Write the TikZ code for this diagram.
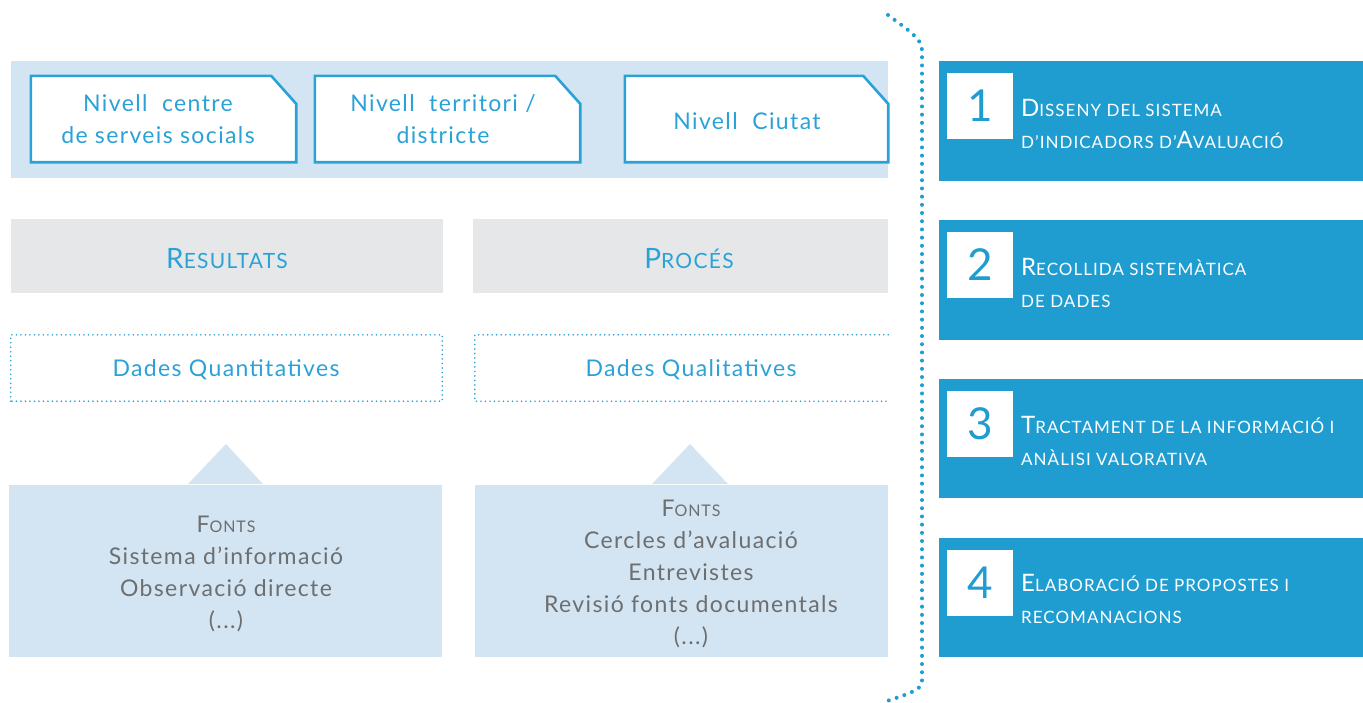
\documentclass[tikz,border=0pt]{standalone}
\usepackage{fontspec}
\setmainfont{Lato}[LetterSpace=6]
\usetikzlibrary{positioning, calc}
\definecolor{paleblue}{HTML}{D3E5F2}
\definecolor{lineblue}{HTML}{2AA2D8}
\definecolor{stepblue}{HTML}{1F9DD0}
\definecolor{headgray}{HTML}{E6E7E8}
\definecolor{fontgray}{HTML}{6D6E70}
\newcommand{\lowcaps}[2]{{\fontsize{#1}{#1}\selectfont #2}}

\begin{document}
\begin{tikzpicture}[x=1pt, y=-1pt, inner sep=0pt,
      nivell/.style={minimum width=265pt, minimum height=86pt, text=lineblue,
        align=center, font=\fontsize{23}{32}\selectfont},
      nivellline/.style={draw=lineblue, line width=2.6pt, fill=white, line join=miter},
      headbox/.style={fill=headgray, minimum height=74pt, text=lineblue,
        font=\fontsize{28}{30}\selectfont},
      databox/.style={minimum height=66pt, text=lineblue,
        font=\fontsize{23}{30}\selectfont},
      dotline/.style={draw=lineblue, line width=1.8pt, dash pattern=on 0pt off 4.5pt, line cap=round},
      fontbox/.style={fill=paleblue, minimum height=172pt, text=fontgray, align=center,
        font=\fontsize{23}{31.8}\selectfont},
      stepbox/.style={fill=stepblue, minimum width=424pt, minimum height=120pt},
      numbox/.style={fill=white, minimum size=66pt, text=stepblue,
        font=\fontsize{44}{44}\selectfont},
      steptext/.style={anchor=west, align=left, text=white,
        font=\fontsize{24}{32}\selectfont}]
      \useasboundingbox (0,0) rectangle (1363,702);
      % niveaux
      \fill[paleblue] (11,61) rectangle (888,178);
      \node[nivell] (centre) at (163.5,119) {};
      \node[nivell] (territori) at (447.5,119) {};
      \node[nivell, minimum width=263pt] (ciutat) at (756.5,119) {};
      \foreach \lvl in {centre, territori, ciutat}
        \draw[nivellline] (\lvl.south west) -- (\lvl.north west)
          -- ($(\lvl.north east)+(-25,0)$) -- ($(\lvl.north east)+(0,28)$)
          -- (\lvl.south east) -- cycle;
      \node[nivell] (centre_t) at (158,119) {Nivell\ \ centre\\de serveis socials};
      \node[nivell] (territori_t) at (443,119) {Nivell\ \ territori /\\districte};
      \node[nivell] (ciutat_t) at (747,121) {Nivell\ \ Ciutat};
      % resultats, proces
      \node[headbox, minimum width=432pt] (resultats) at (227,256) {};
      \node[text=lineblue, font=\fontsize{28}{30}\selectfont] (resultats_t) at (227,259)
        {R\lowcaps{21}{ESULTATS}};
      \node[headbox, minimum width=415pt] (proces) at (680.5,256) {};
      \node[text=lineblue, font=\fontsize{28}{30}\selectfont] (proces_t) at (689,259)
        {P\lowcaps{21}{ROCÉS}};
      % dades
      \node[databox, minimum width=431pt] (quanti) at (226.5,368) {};
      \node[databox] (quanti_t) at (226,370) {Dades Quantitatives};
      \node[databox, minimum width=413pt] (quali) at (681.5,368) {};
      \node[databox] (quali_t) at (691,370) {Dades Qualitatives};
      \draw[dotline] (quanti.south west) rectangle (quanti.north east);
      \draw[dotline] (quali.north east) -- (quali.north west) -- (quali.south west)
        -- (quali.south east);
      % fonts
      \fill[paleblue] (188,484) -- (226,444) -- (263,484) -- cycle;
      \fill[paleblue] (652,484) -- (690,444) -- (728,484) -- cycle;
      \node[fontbox, minimum width=433pt] (fonts_q) at (225.5,571) {};
      \node[fontbox, minimum height=0pt] (fonts_q_t) at (226,574)
        {F\lowcaps{16}{ONTS}\\Sistema d’informació\\Observació directe\\(...)};
      \node[fontbox, minimum width=413pt] (fonts_l) at (681.5,571) {};
      \node[fontbox, minimum height=0pt] (fonts_l_t) at (691,574)
        {F\lowcaps{16}{ONTS}\\Cercles d’avaluació\\Entrevistes\\Revisió fonts documentals\\(...)};
      % claudator
      \draw[draw=stepblue, line width=4pt, dash pattern=on 0pt off 8.2pt, line cap=round]
        (888,15) .. controls (905,28) and (922,38) .. (922,50) -- (922,682)
        .. controls (922,690) and (905,695) .. (887,701);
      % etapes
      \node[stepbox] (step_1) at (1151,121) {};
      \node[numbox] (num_1) at (980,106) {1};
      \node[steptext] (text_1) at (1021,124)
        {D\lowcaps{17}{ISSENY DEL SISTEMA}\\\lowcaps{17}{D’INDICADORS D’}A\lowcaps{17}{VALUACIÓ}};
      \node[stepbox] (step_2) at (1151,280) {};
      \node[numbox] (num_2) at (980,265) {2};
      \node[steptext] (text_2) at (1021,283)
        {R\lowcaps{17}{ECOLLIDA SISTEMÀTICA}\\\lowcaps{17}{DE DADES}};
      \node[stepbox, minimum height=119pt] (step_3) at (1151,438.5) {};
      \node[numbox] (num_3) at (980,424) {3};
      \node[steptext] (text_3) at (1021,441)
        {T\lowcaps{17}{RACTAMENT DE LA INFORMACIÓ I}\\\lowcaps{17}{ANÀLISI VALORATIVA}};
      \node[stepbox, minimum height=119pt] (step_4) at (1151,597.5) {};
      \node[numbox] (num_4) at (980,582.5) {4};
      \node[steptext] (text_4) at (1021,599)
        {E\lowcaps{17}{LABORACIÓ DE PROPOSTES I}\\\lowcaps{17}{RECOMANACIONS}};
  \end{tikzpicture}
\end{document}
